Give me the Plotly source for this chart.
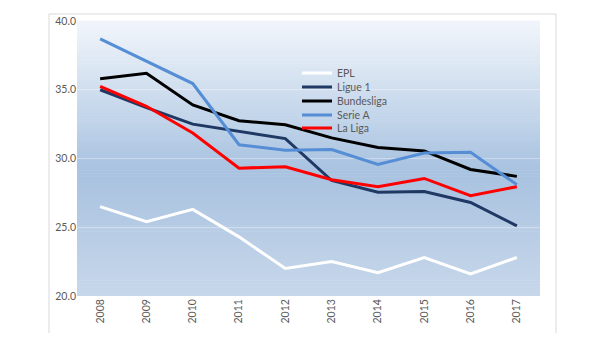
import plotly.graph_objects as go

years = ["2008", "2009", "2010", "2011", "2012", "2013", "2014", "2015", "2016", "2017"]
epl = [26.5, 25.4, 26.3, 24.3, 22.0, 22.5, 21.7, 22.8, 21.6, 22.8]
ligue1 = [35.0, 33.7, 32.5, 32.0, 31.45, 28.4, 27.55, 27.6, 26.8, 25.1]
bundesliga = [35.8, 36.2, 33.9, 32.75, 32.45, 31.5, 30.8, 30.55, 29.2, 28.7]
serie_a = [38.7, 37.1, 35.45, 31.0, 30.6, 30.65, 29.57, 30.4, 30.45, 28.1]
la_liga = [35.25, 33.8, 31.85, 29.3, 29.4, 28.45, 27.95, 28.55, 27.3, 27.95]

series = [
    ("EPL", epl, "#ffffff", "legend"),
    ("Ligue 1", ligue1, "#1f3864", "legend2"),
    ("Bundesliga", bundesliga, "#000000", "legend3"),
    ("Serie A", serie_a, "#558ed5", "legend4"),
    ("La Liga", la_liga, "#ff0000", "legend5"),
]

fig = go.Figure()
for name, vals, color, lg in series:
    fig.add_trace(go.Scatter(x=years, y=vals, mode="lines", name=name,
                             line=dict(color=color, width=3), legend=lg))

# gradient background (top light -> mid blue -> lighter bottom)
stops = [(0.0, (242, 246, 251)), (0.55, (168, 194, 224)), (1.0, (199, 215, 234))]
def col(t):
    for (a, ca), (b, cb) in zip(stops[:-1], stops[1:]):
        if a <= t <= b:
            f = (t - a) / (b - a)
            return "rgb(%d,%d,%d)" % tuple(round(ca[i] + (cb[i] - ca[i]) * f) for i in range(3))
    return "rgb(199,215,234)"

shapes = []
n = 90
for i in range(n):
    t0 = i / n
    t1 = (i + 1) / n
    shapes.append(dict(type="rect", xref="paper", yref="paper", x0=0, x1=1,
                       y0=1 - t1, y1=1 - t0 + 0.002, line=dict(width=0),
                       fillcolor=col((t0 + t1) / 2), layer="below"))
# outer chart frame
W, H = 463.0, 275.0
x0 = (49 - 77) / W
x1 = (556 - 77) / W
y0 = (296 - 333) / H
y1 = (296 - 14) / H
shapes.append(dict(type="path", xref="paper", yref="paper",
                   path=f"M {x0},{y0} L {x0},{y1} L {x1},{y1} L {x1},{y0}",
                   line=dict(color="#d9d9d9", width=1), layer="below"))

font = dict(family="Lato, Open Sans, sans-serif", size=10.5, color="#595959")
lx = (297 - 77) / W
leg_y = [73, 87, 101, 115, 128]
legends = {}
for i, yy in enumerate(leg_y):
    key = "legend" if i == 0 else f"legend{i+1}"
    legends[key] = dict(x=lx, y=(296 - yy) / H, xanchor="left", yanchor="middle",
                        bgcolor="rgba(0,0,0,0)", font=font, itemwidth=30)

fig.update_layout(
    width=597, height=353,
    margin=dict(l=77, r=57, t=21, b=57),
    paper_bgcolor="white",
    plot_bgcolor="rgba(0,0,0,0)",
    shapes=shapes,
    showlegend=True,
    **legends,
    xaxis=dict(type="category", range=[-0.5, 9.5], showgrid=False, zeroline=False,
               showline=False, ticks="", tickangle=-90, tickfont=font),
    yaxis=dict(range=[20, 40], dtick=5, tickformat=".1f", showgrid=True,
               gridcolor="rgba(255,255,255,0.35)", gridwidth=1, zeroline=False,
               showline=False, ticks="", tickfont=font),
)

fig.write_html("out.html")
